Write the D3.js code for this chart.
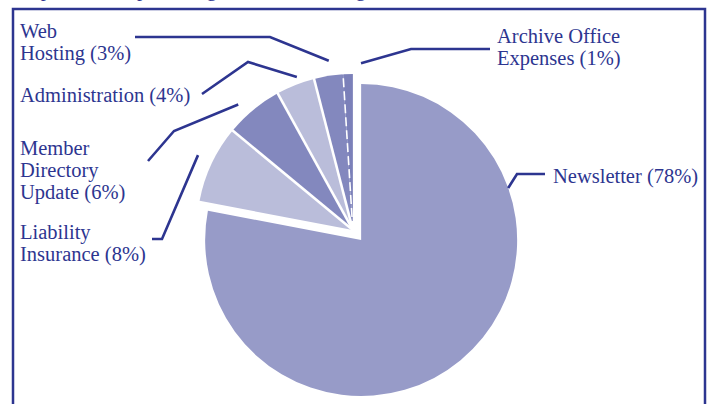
<!DOCTYPE html>
<html lang="en">
<head>
  <meta charset="utf-8">
  <title>Expenses Pie</title>
  <script src="https://cdn.jsdelivr.net/npm/d3@7"></script>
  <style>
    body { margin: 0; background: #fff; }
    text { font-family: "Liberation Serif", "DejaVu Serif", serif; }
  </style>
</head>
<body>
<script>
// data
const categories = ["Newsletter", "Liability Insurance", "Member Directory Update",
                    "Administration", "Web Hosting", "Archive Office Expenses"];
const percents = [78, 8, 6, 4, 3, 1];
const labelLines = [
  ["Newsletter (78%)"],
  ["Liability", "Insurance (8%)"],
  ["Member", "Directory", "Update (6%)"],
  ["Administration (4%)"],
  ["Web", "Hosting (3%)"],
  ["Archive Office", "Expenses (1%)"]
];
const colors = ["#979bc8", "#babdda", "#8388be", "#babdda", "#8388be", "#7b80b9"];

// label placement (text anchor + leader line: angle/radius on the slice, elbow, end)
const layout = [
  { tx: 553, ty: 183, angle: 70.5, r: 156, elbow: [517, 174], end: [545, 174] },
  { tx: 20,  ty: 239, angle: 295.8, r: 172, elbow: [162, 239], end: [152, 239] },
  { tx: 20,  ty: 155, angle: 317.6, r: 170, elbow: [174, 131], end: [148, 161] },
  { tx: 20,  ty: 102, angle: 339.9, r: 163, elbow: [248, 62],  end: [202, 94] },
  { tx: 20,  ty: 38,  angle: 351.9, r: 171, elbow: [270, 37],  end: [135, 37] },
  { tx: 497, ty: 43,  angle: 2.8,   r: 167, elbow: [411, 49],  end: [490, 49] }
];

const navy = "#2d3590";
const w = 709, h = 404;
const cx = 357, cy = 235, radius = 156, explode = 6.5;

const svg = d3.select("body").append("svg")
  .attr("width", w)
  .attr("height", h);

// box frame (bottom runs off the page)
svg.append("path")
  .attr("d", "M13," + (h + 10) + "V9H705V" + (h + 10))
  .attr("fill", "none")
  .attr("stroke", navy)
  .attr("stroke-width", 2.5);

// title line, mostly above the page edge as in the original crop
svg.append("text")
  .attr("x", 18).attr("y", -4)
  .attr("font-size", 20.5)
  .attr("fill", navy)
  .text("Expenses as a percentage of the total budget");

const pie = d3.pie().sort(null).value(d => d);
const arcs = pie(percents);
const arc = d3.arc().innerRadius(0).outerRadius(radius);

// explode newsletter one way, the small slices the other way
function offset(a0, a1, dist) {
  let m = (a0 + a1) / 2;
  return [Math.sin(m) * dist, -Math.cos(m) * dist];
}
const mainOff = offset(arcs[0].startAngle, arcs[0].endAngle, explode);
const restOff = offset(arcs[1].startAngle, arcs[arcs.length - 1].endAngle, explode);
const centers = arcs.map((d, i) => i === 0
  ? [cx + mainOff[0], cy + mainOff[1]]
  : [cx + restOff[0], cy + restOff[1]]);

svg.selectAll("path.slice")
  .data(arcs)
  .enter()
  .append("path")
  .attr("class", "slice")
  .attr("transform", (d, i) => "translate(" + centers[i] + ")")
  .attr("d", arc)
  .attr("fill", (d, i) => colors[i]);

// white separators between the small slices
const seps = arcs.slice(2);
svg.selectAll("line.sep")
  .data(seps)
  .enter()
  .append("line")
  .attr("class", "sep")
  .attr("x1", centers[1][0])
  .attr("y1", centers[1][1])
  .attr("x2", d => centers[1][0] + Math.sin(d.startAngle) * (radius + 2))
  .attr("y2", d => centers[1][1] - Math.cos(d.startAngle) * (radius + 2))
  .attr("stroke", "#fff")
  .attr("stroke-width", (d, i) => i === seps.length - 1 ? 1.6 : 2.6)
  .attr("stroke-dasharray", (d, i) => i === seps.length - 1 ? "9,4" : null);

// leader lines
const line = d3.line();
svg.selectAll("path.leader")
  .data(layout)
  .enter()
  .append("path")
  .attr("class", "leader")
  .attr("d", (d, i) => {
    let a = d.angle * Math.PI / 180;
    let c = centers[i];
    let start = [c[0] + Math.sin(a) * d.r, c[1] - Math.cos(a) * d.r];
    return line([start, d.elbow, d.end]);
  })
  .attr("fill", "none")
  .attr("stroke", navy)
  .attr("stroke-width", 2.6);

// labels
const labels = svg.selectAll("text.lbl")
  .data(layout)
  .enter()
  .append("text")
  .attr("class", "lbl")
  .attr("font-size", 20.5)
  .attr("fill", navy);

labels.each(function(d, i) {
  d3.select(this).selectAll("tspan")
    .data(labelLines[i])
    .enter()
    .append("tspan")
    .attr("x", d.tx)
    .attr("y", (t, j) => d.ty + j * 22)
    .text(t => t);
});
</script>
</body>
</html>
